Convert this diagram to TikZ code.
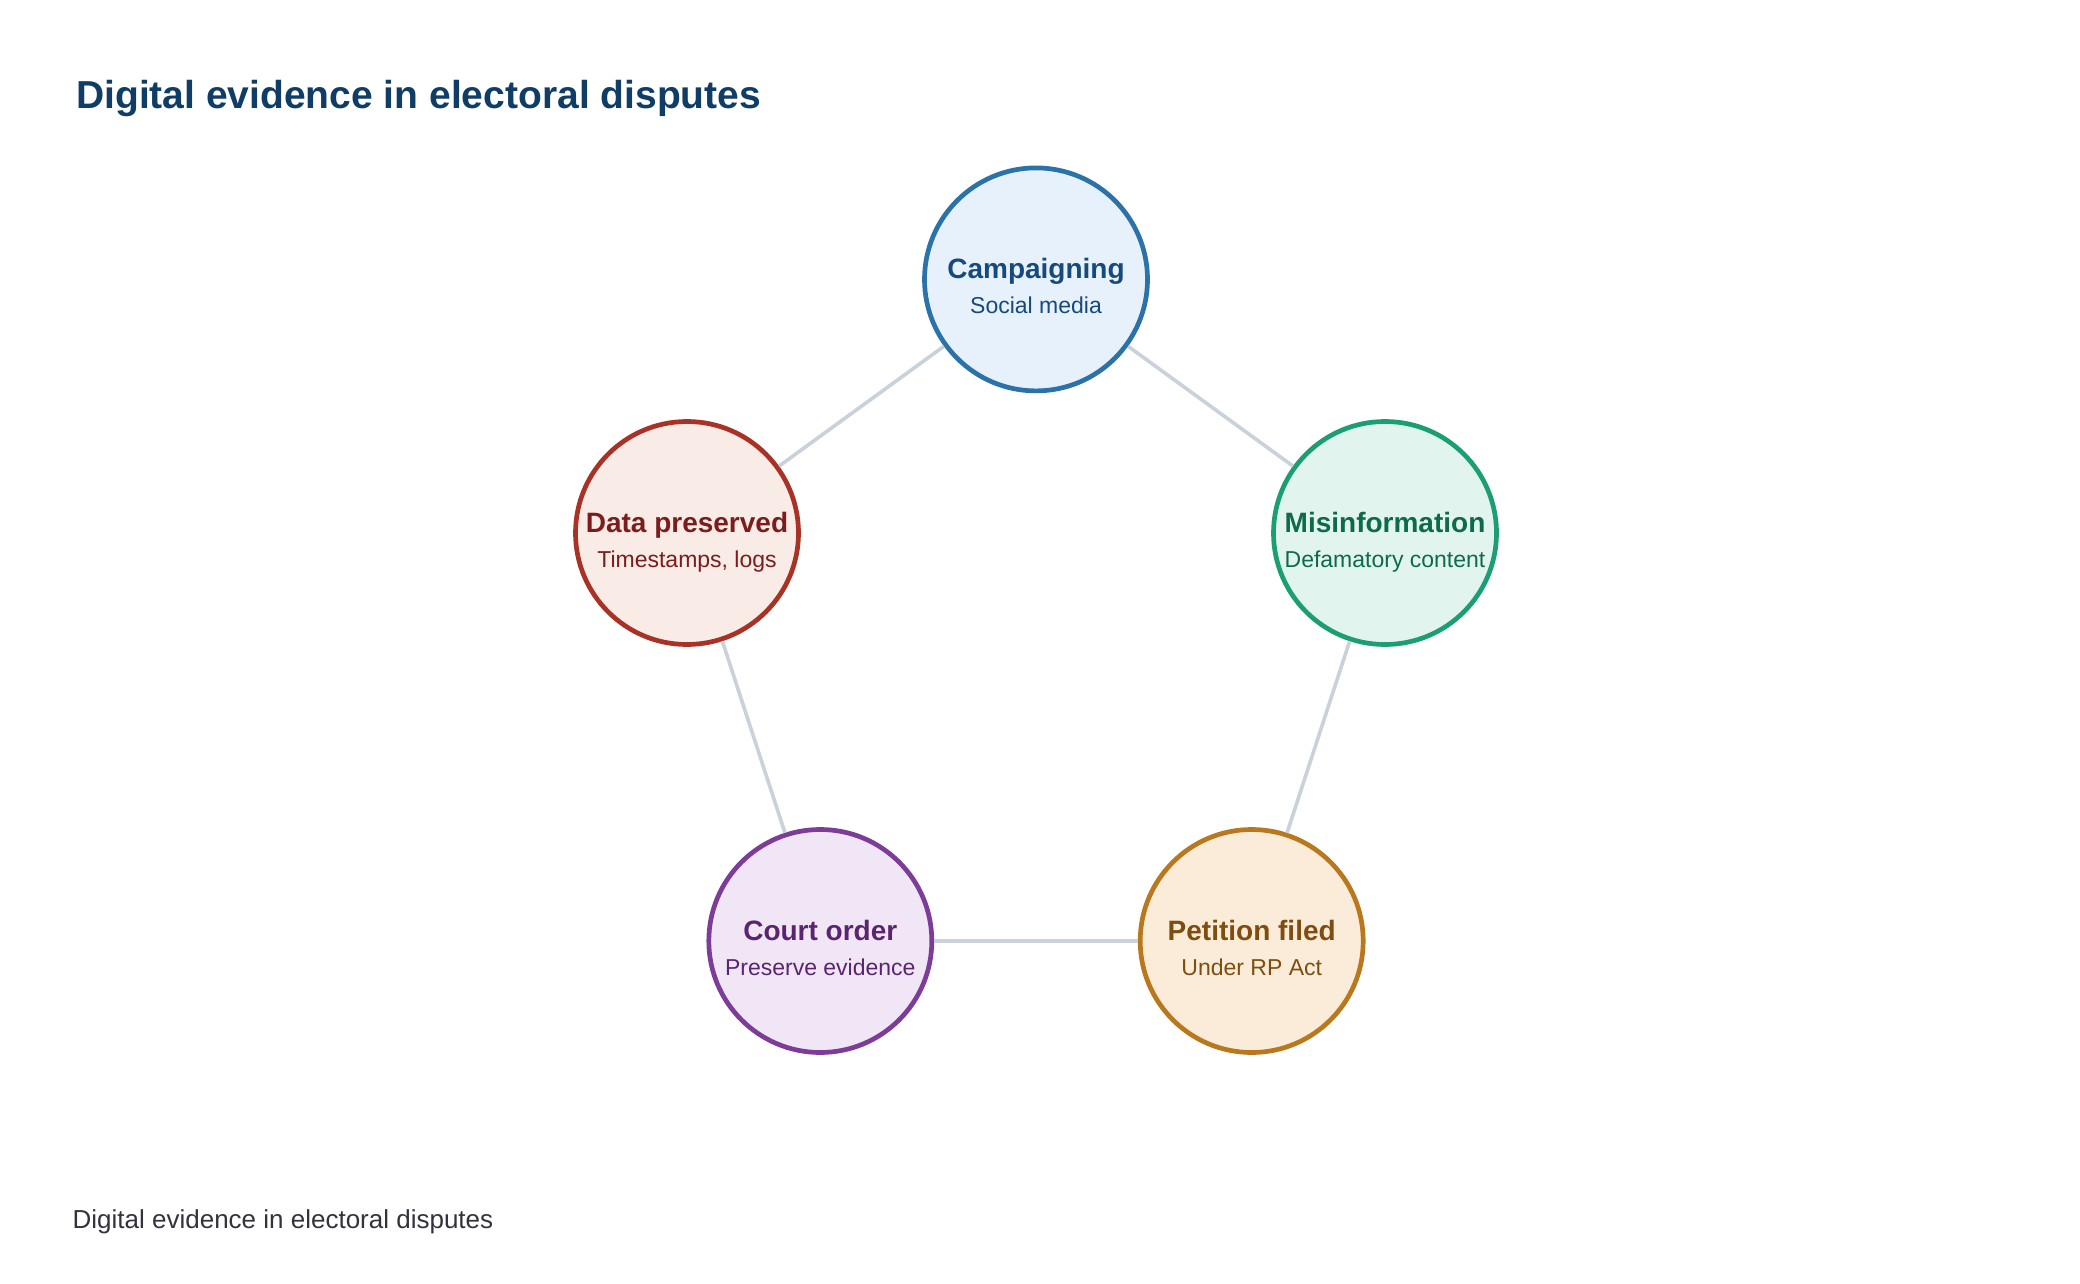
\documentclass[tikz,border=0pt]{standalone}
\usepackage{fontspec}
\setmainfont{Liberation Sans}
\definecolor{titlec}{HTML}{0F3D66}
\definecolor{footc}{HTML}{33333F}
\definecolor{edgec}{HTML}{C9D1DB}
\definecolor{bS}{HTML}{2A72A8}\definecolor{bF}{HTML}{E6F1FB}\definecolor{bT}{HTML}{174A7C}
\definecolor{rS}{HTML}{A93226}\definecolor{rF}{HTML}{F9EBE6}\definecolor{rT}{HTML}{7B1D1D}
\definecolor{gS}{HTML}{1C9E75}\definecolor{gF}{HTML}{E1F5EE}\definecolor{gT}{HTML}{0D6B4C}
\definecolor{pS}{HTML}{7D3C98}\definecolor{pF}{HTML}{F0E6F6}\definecolor{pT}{HTML}{5B2470}
\definecolor{oS}{HTML}{B9771E}\definecolor{oF}{HTML}{FBECD9}\definecolor{oT}{HTML}{7E4D0F}
\tikzset{
  stage/.style={circle, draw=#1S, fill=#1F, line width=4.7pt, minimum size=223pt, inner sep=0pt},
  headtxt/.style={anchor=base, text=#1T, font=\fontsize{28}{32}\selectfont\bfseries, inner sep=0pt},
  subtxt/.style={anchor=base, text=#1T, font=\fontsize{23}{28}\selectfont, inner sep=0pt},
  link/.style={draw=edgec, line width=3.6pt}
}
\begin{document}
\begin{tikzpicture}[x=1pt,y=-1pt]
\useasboundingbox[fill=white] (0,0) rectangle (2080,1284);
\node[anchor=base west, text=titlec, font=\fontsize{39}{44}\selectfont\bfseries, inner sep=0pt] (title) at (76,109) {Digital evidence in electoral disputes};
\node[anchor=base west, text=footc, font=\fontsize{26}{30}\selectfont, inner sep=0pt] (foot) at (72.5,1228) {Digital evidence in electoral disputes};

\node[stage=b] (camp) at (1036,279.4) {};
\node[stage=g] (mis) at (1385,533) {};
\node[stage=o] (pet) at (1251.7,941) {};
\node[stage=p] (court) at (820.3,941) {};
\node[stage=r] (data) at (687,533) {};

\draw[link] (camp) -- (mis);
\draw[link] (mis) -- (pet);
\draw[link] (pet) -- (court);
\draw[link] (court) -- (data);
\draw[link] (data) -- (camp);

\node[headtxt=b] (campH) at ([yshift=1pt]camp.center) {Campaigning};
\node[subtxt=b] (campS) at ([yshift=-34pt]camp.center) {Social media};
\node[headtxt=g] (misH) at ([yshift=1pt]mis.center) {Misinformation};
\node[subtxt=g] (misS) at ([yshift=-34pt]mis.center) {Defamatory content};
\node[headtxt=o] (petH) at ([yshift=1pt]pet.center) {Petition filed};
\node[subtxt=o] (petS) at ([yshift=-34pt]pet.center) {Under RP Act};
\node[headtxt=p] (courtH) at ([yshift=1pt]court.center) {Court order};
\node[subtxt=p] (courtS) at ([yshift=-34pt]court.center) {Preserve evidence};
\node[headtxt=r] (dataH) at ([yshift=1pt]data.center) {Data preserved};
\node[subtxt=r] (dataS) at ([yshift=-34pt]data.center) {Timestamps, logs};
\end{tikzpicture}
\end{document}
